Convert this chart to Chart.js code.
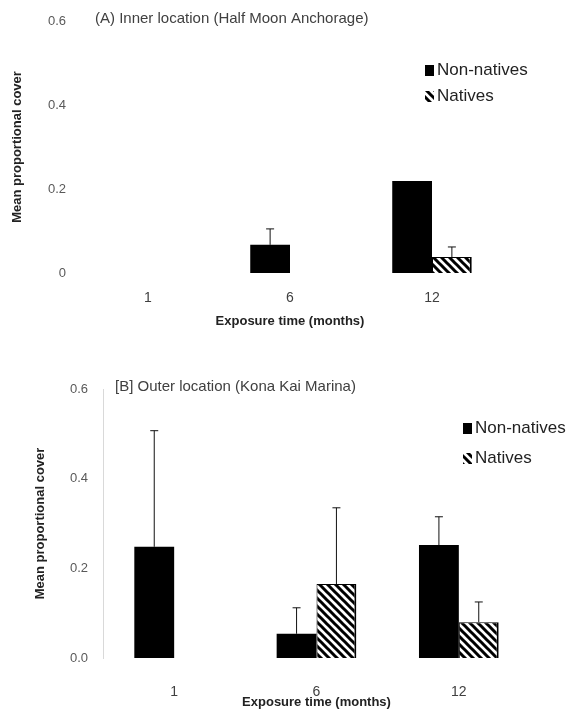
<!DOCTYPE html>
<html>
<head>
<meta charset="utf-8">
<script src="https://cdn.jsdelivr.net/npm/chart.js@4"></script>
<style>
  html, body { margin: 0; padding: 0; background: #fff; }
  #wrap { position: relative; width: 574px; height: 717px; overflow: hidden; }
  #chartA { position: absolute; left: 0; top: 0; }
  #chartB { position: absolute; left: 0; top: 345px; }
</style>
</head>
<body>
<div id="wrap">
  <canvas id="chartA" width="574" height="340"></canvas>
  <canvas id="chartB" width="574" height="372"></canvas>
</div>
<script>
// Exposure months and mean proportional cover per location
const months = ['1', '6', '12'];
const tickValues = [0, 0.2, 0.4, 0.6];
const tickLabelsA = ['0', '0.2', '0.4', '0.6'];
const tickLabelsB = ['0.0', '0.2', '0.4', '0.6'];

// (A) Inner location
const innerNonNatives = [0, 0.067, 0.219];
const innerNonNativesErr = [0, 0.038, 0];
const innerNatives = [0, 0, 0.038];
const innerNativesErr = [0, 0, 0.024];

// (B) Outer location
const outerNonNatives = [0.248, 0.054, 0.252];
const outerNonNativesErr = [0.259, 0.058, 0.063];
const outerNatives = [0, 0.165, 0.080];
const outerNativesErr = [0, 0.170, 0.045];

const FONT = '"Liberation Sans", Arial, sans-serif';
Chart.defaults.font.family = FONT;
Chart.defaults.color = '#595959';

// Diagonal hatch used for the natives bars
function makeHatch() {
    const c = document.createElement('canvas');
    c.width = 8;
    c.height = 8;
    const g = c.getContext('2d');
    g.fillStyle = '#fff';
    g.fillRect(0, 0, 8, 8);
    g.strokeStyle = '#000';
    g.lineWidth = 3;
    g.beginPath();
    g.moveTo(-1, -1); g.lineTo(9, 9);
    g.moveTo(-5, 3); g.lineTo(5, 13);
    g.moveTo(3, -5); g.lineTo(13, 5);
    g.stroke();
    return g.createPattern(c, 'repeat');
}
const hatch = makeHatch();

// Vertical error bars drawn above each bar
const errorBars = {
    id: 'errorBars',
    afterDatasetsDraw(chart) {
        const ctx = chart.ctx;
        const yScale = chart.scales.y;
        chart.data.datasets.forEach((ds, i) => {
            if (!ds.errors) return;
            chart.getDatasetMeta(i).data.forEach((bar, j) => {
                const err = ds.errors[j];
                if (!err) return;
                const top = yScale.getPixelForValue(ds.data[j] + err);
                ctx.save();
                ctx.strokeStyle = '#111';
                ctx.lineWidth = 1;
                ctx.beginPath();
                ctx.moveTo(bar.x, bar.y);
                ctx.lineTo(bar.x, top);
                ctx.moveTo(bar.x - 4, top);
                ctx.lineTo(bar.x + 4, top);
                ctx.stroke();
                ctx.restore();
            });
        });
    }
};

// Panel title and legend placed inside the plot area
const panelLabels = {
    id: 'panelLabels',
    afterDraw(chart, args, opts) {
        const ctx = chart.ctx;
        const area = chart.chartArea;
        ctx.save();
        ctx.textBaseline = 'middle';
        ctx.textAlign = 'left';
        ctx.font = '15px ' + FONT;
        ctx.fillStyle = '#404040';
        ctx.fillText(opts.title, area.left + opts.titleOffset, area.top - 2);

        ctx.font = '17px ' + FONT;
        chart.data.datasets.forEach((ds, i) => {
            const y = opts.legendY + i * opts.legendGap;
            ctx.fillStyle = ds.backgroundColor;
            ctx.fillRect(opts.legendX, y - 5, 9, 11);
            ctx.fillStyle = '#222';
            ctx.fillText(ds.label, opts.legendX + 12, y);
        });
        ctx.restore();
    }
};

function buildChart(id, cfg) {
    return new Chart(document.getElementById(id), {
        type: 'bar',
        data: {
            labels: months,
            datasets: [
                {
                    label: 'Non-natives',
                    data: cfg.nonNatives,
                    errors: cfg.nonNativesErr,
                    backgroundColor: '#000',
                    borderColor: '#000',
                    borderWidth: 0,
                    barPercentage: 1,
                    categoryPercentage: 0.56
                },
                {
                    label: 'Natives',
                    data: cfg.natives,
                    errors: cfg.nativesErr,
                    backgroundColor: hatch,
                    borderColor: '#000',
                    borderWidth: { left: 1, right: 2, top: 1, bottom: 0 },
                    borderSkipped: 'bottom',
                    barPercentage: 1,
                    categoryPercentage: 0.56
                }
            ]
        },
        options: {
            responsive: false,
            animation: false,
            layout: { padding: cfg.padding },
            plugins: {
                legend: { display: false },
                tooltip: { enabled: false },
                panelLabels: {
                    title: cfg.title,
                    titleOffset: cfg.titleOffset,
                    legendX: cfg.legendX,
                    legendY: cfg.legendY,
                    legendGap: cfg.legendGap
                }
            },
            scales: {
                x: {
                    grid: { display: false, drawTicks: false },
                    border: { display: false },
                    ticks: { padding: cfg.xTickPad, font: { size: 14 }, color: '#404040' },
                    title: {
                        display: true,
                        text: 'Exposure time (months)',
                        font: { size: 13, weight: 'bold' },
                        color: '#222',
                        padding: 0
                    },
                    afterFit(scale) { scale.height = cfg.xHeight; }
                },
                y: {
                    min: 0,
                    max: 0.6,
                    afterBuildTicks(scale) {
                        scale.ticks = tickValues.map(v => ({ value: v }));
                    },
                    ticks: {
                        padding: cfg.yTickPad,
                        font: { size: 13 },
                        callback: (v, i) => cfg.tickLabels[i]
                    },
                    grid: { display: false, drawTicks: false },
                    border: { display: cfg.showAxis, color: '#d9d9d9' },
                    title: {
                        display: true,
                        text: 'Mean proportional cover',
                        font: { size: 13, weight: 'bold' },
                        color: '#222',
                        padding: 0
                    },
                    afterFit(scale) { scale.width = cfg.yWidth; }
                }
            }
        },
        plugins: [errorBars, panelLabels]
    });
}

buildChart('chartA', {
    nonNatives: innerNonNatives,
    nonNativesErr: innerNonNativesErr,
    natives: innerNatives,
    nativesErr: innerNativesErr,
    tickLabels: tickLabelsA,
    title: '(A) Inner location (Half Moon Anchorage)',
    titleOffset: 18,
    legendX: 425,
    legendY: 70,
    legendGap: 26,
    padding: { left: 10, right: 71, top: 21, bottom: 11 },
    yWidth: 67,
    yTickPad: 11,
    xHeight: 56,
    xTickPad: 17,
    showAxis: false
});

buildChart('chartB', {
    nonNatives: outerNonNatives,
    nonNativesErr: outerNonNativesErr,
    natives: outerNatives,
    nativesErr: outerNativesErr,
    tickLabels: tickLabelsB,
    title: '[B] Outer location (Kona Kai Marina)',
    titleOffset: 12,
    legendX: 463,
    legendY: 83,
    legendGap: 30,
    padding: { left: 33, right: 44, top: 44, bottom: 7 },
    yWidth: 70,
    yTickPad: 15,
    xHeight: 52,
    xTickPad: 26,
    showAxis: true
});
</script>
</body>
</html>
